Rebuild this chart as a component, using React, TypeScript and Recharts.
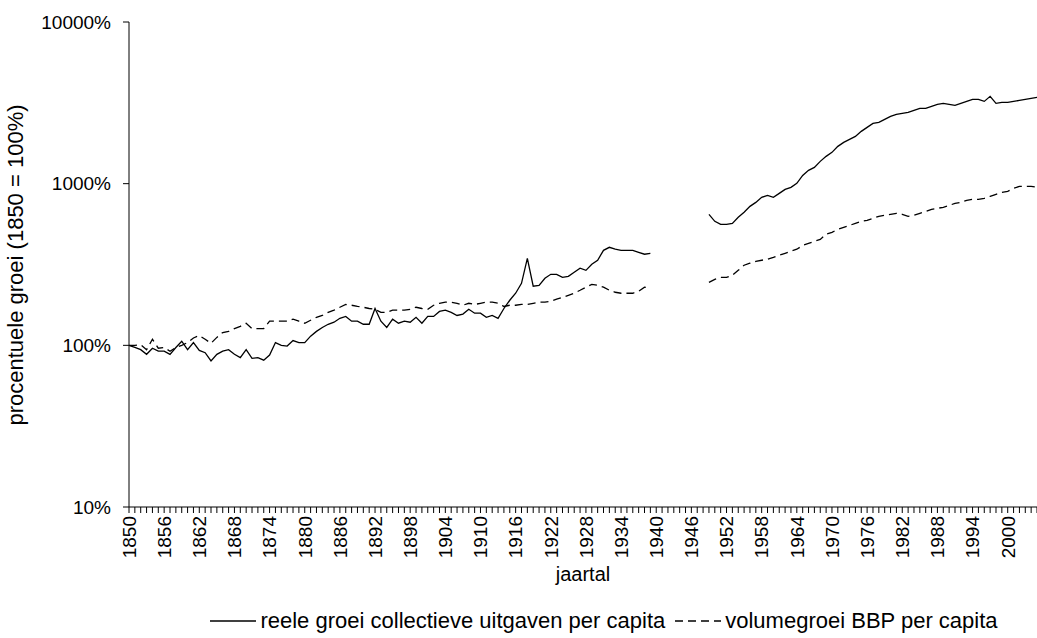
import { LineChart, Line, XAxis, YAxis, Label } from "recharts"

// jaartallen 1850-2005 (1940-1948 ontbreken in beide reeksen)
const jaren: number[] = []
for (let j = 1850; j <= 2005; j++) jaren.push(j)

// reele groei collectieve uitgaven per capita, 1850 = 100
const collectiefVoor = [
  100, 97, 94, 88, 96, 92, 92, 88, 97, 106,
  94, 104, 93, 90, 80, 88, 92, 94, 88, 84,
  94, 83, 84, 81, 87, 104, 100, 99, 107, 104,
  104, 114, 122, 129, 135, 139, 147, 151, 141, 141,
  135, 135, 169, 141, 129, 145, 137, 141, 139, 149,
  137, 151, 151, 162, 165, 160, 153, 156, 167, 158,
  158, 149, 153, 147, 169, 190, 210, 242, 345, 232,
  235, 260, 275, 275, 263, 267, 283, 300, 291, 317,
  336, 387, 404, 393, 387, 387, 387, 376, 366, 371,
] // 1850-1939
const collectiefNa = [
  646, 585, 560, 560, 568, 619, 665, 724, 766, 823,
  847, 823, 871, 922, 949, 1004, 1125, 1209, 1261, 1374,
  1475, 1562, 1701, 1801, 1879, 1961, 2106, 2230, 2360, 2394,
  2498, 2608, 2683, 2722, 2760, 2840, 2922, 2922, 3006, 3093,
  3137, 3093, 3050, 3137, 3228, 3321, 3321, 3228, 3467, 3137,
  3182, 3182, 3228, 3274, 3321, 3368, 3416,
] // 1949-2005

// volumegroei BBP per capita, 1850 = 100
const bbpVoor = [
  100, 100, 101, 94, 109, 96, 97, 92, 97, 100,
  104, 111, 115, 109, 103, 112, 120, 122, 127, 131,
  137, 127, 127, 127, 141, 141, 141, 141, 145, 141,
  137, 143, 149, 153, 160, 165, 172, 179, 177, 174,
  172, 169, 167, 160, 160, 165, 165, 165, 167, 172,
  169, 167, 177, 182, 185, 185, 182, 177, 182, 179,
  182, 185, 185, 182, 174, 177, 177, 179, 179, 182,
  185, 185, 187, 193, 198, 204, 210, 219, 229, 238,
  235, 229, 219, 213, 210, 210, 210, 216, 229, 225,
] // 1850-1939
const bbpNa = [
  245, 256, 263, 263, 271, 291, 313, 322, 331, 336,
  341, 350, 361, 371, 382, 393, 415, 427, 440, 452,
  486, 500, 522, 537, 552, 568, 585, 593, 610, 628,
  637, 646, 655, 646, 628, 637, 655, 674, 694, 704,
  714, 734, 755, 766, 788, 800, 800, 811, 835, 859,
  884, 896, 935, 962, 962, 962, 949,
] // 1949-2005

const yTicks = [10, 100, 1000, 10000]

const kies = (voor: number[], na: number[], jaar: number) =>
  jaar <= 1939 ? voor[jaar - 1850] : jaar >= 1949 ? na[jaar - 1949] : null

const data = jaren.map((jaar) => ({
  jaar,
  collectief: kies(collectiefVoor, collectiefNa, jaar),
  bbp: kies(bbpVoor, bbpNa, jaar),
}))

const font = '"Liberation Sans", Arial, Helvetica, sans-serif'
const fs = 19
const fsGroot = 22

function JaarTick(props: any) {
  const { x, y, payload } = props
  if ((payload.value - 1850) % 6 !== 0) return <g />
  return (
    <text
      x={x}
      y={y}
      dy="0.36em"
      transform={`rotate(-90 ${x} ${y})`}
      textAnchor="end"
      fontFamily={font}
      fontSize={fs}
      fill="#000"
    >
      {payload.value}
    </text>
  )
}

function LegendSample({ dashed }: { dashed?: boolean }) {
  return (
    <svg width={46} height={10} style={{ marginRight: 4 }}>
      <line x1={0} y1={5} x2={46} y2={5} stroke="#000" strokeWidth={1.3} strokeDasharray={dashed ? "8 5" : undefined} />
    </svg>
  )
}

export default function App() {
  return (
    <div style={{ position: "absolute", left: 0, top: 0, width: 1037, height: 638, background: "#fff" }}>
      <LineChart width={1037} height={638} data={data} margin={{ top: 22, right: 0, bottom: 0, left: 0 }}>
        <XAxis
          dataKey="jaar"
          type="number"
          domain={[1850, 2005]}
          ticks={jaren}
          interval={0}
          tick={<JaarTick />}
          tickSize={6}
          tickMargin={3}
          height={131}
          axisLine={{ stroke: "#000" }}
          tickLine={{ stroke: "#000" }}
        >
          <Label value="jaartal" position="insideTop" offset={60} fontFamily={font} fontSize={20} fill="#000" />
        </XAxis>
        <YAxis
          scale="log"
          domain={[10, 10000]}
          ticks={yTicks}
          interval={0}
          allowDataOverflow
          tickFormatter={(v) => `${v}%`}
          width={129}
          tickSize={6}
          tickMargin={12}
          tick={{ fontFamily: font, fontSize: fs, fill: "#000" }}
          axisLine={{ stroke: "#000" }}
          tickLine={{ stroke: "#000" }}
        >
          <Label
            content={() => (
              <text
                x={15}
                y={265}
                transform="rotate(-90 15 265)"
                textAnchor="middle"
                dy="0.36em"
                fontFamily={font}
                fontSize={fsGroot}
                fill="#000"
              >
                procentuele groei (1850 = 100%)
              </text>
            )}
          />
        </YAxis>
        <Line
          dataKey="collectief"
          type="linear"
          stroke="#000"
          strokeWidth={1.3}
          dot={false}
          activeDot={false}
          isAnimationActive={false}
        />
        <Line
          dataKey="bbp"
          type="linear"
          stroke="#000"
          strokeWidth={1.3}
          strokeDasharray="8 5"
          dot={false}
          activeDot={false}
          isAnimationActive={false}
        />
      </LineChart>
      <div
        style={{
          position: "absolute",
          top: 608,
          left: 150,
          width: 908,
          display: "flex",
          justifyContent: "center",
          alignItems: "center",
          fontFamily: font,
          fontSize: fsGroot,
          whiteSpace: "nowrap",
        }}
      >
        <LegendSample />
        <span style={{ marginRight: 10 }}>reele groei collectieve uitgaven per capita</span>
        <LegendSample dashed />
        <span>volumegroei BBP per capita</span>
      </div>
    </div>
  )
}
